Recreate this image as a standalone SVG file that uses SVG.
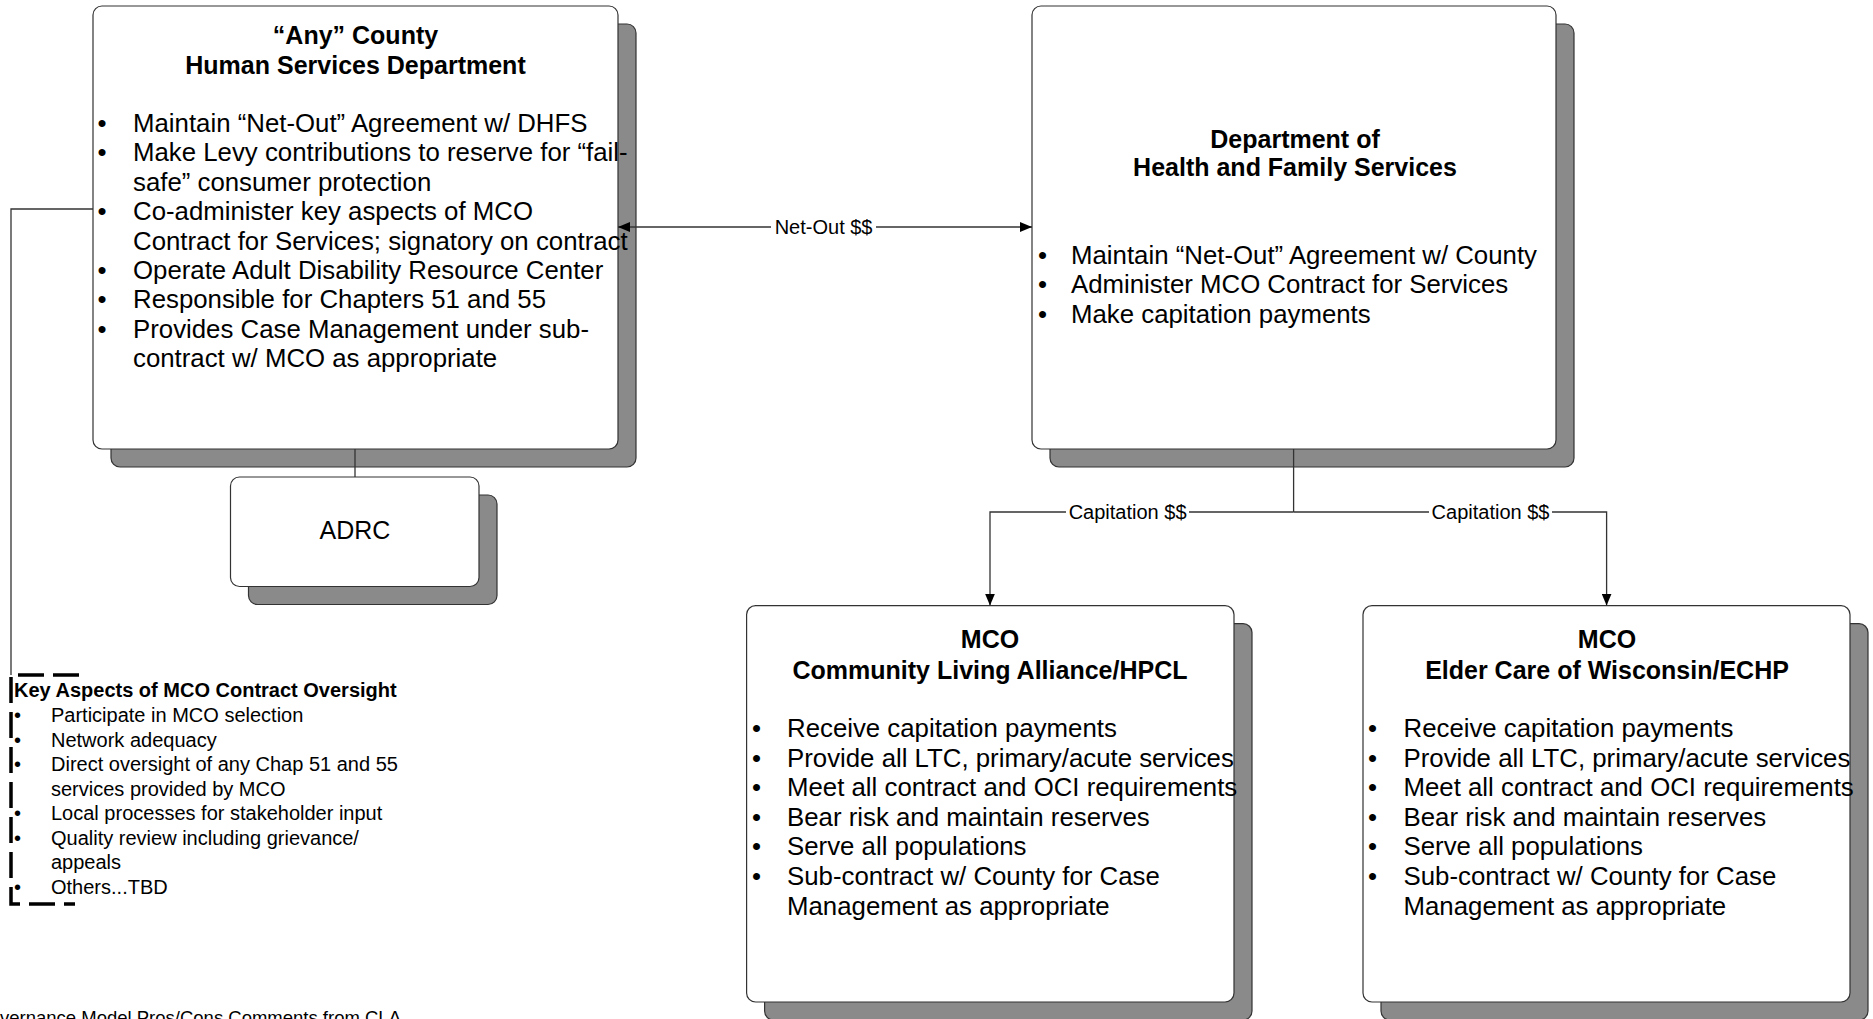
<svg xmlns="http://www.w3.org/2000/svg" width="1873" height="1019" viewBox="0 0 1873 1019">
<style>
.bg{fill:#ffffff}
.shadow{fill:#8a8a8a;stroke:#333333;stroke-width:1.2}
.box{fill:#ffffff;stroke:#333333;stroke-width:1.2}
.t{font-family:"Liberation Sans",Arial,Helvetica,sans-serif;fill:#000000}
.title{font-size:25px;font-weight:bold;text-anchor:middle}
.body{font-size:25.8px}
.small{font-size:20px}
.smallb{font-size:20px;font-weight:bold}
.lbl{font-size:20px;text-anchor:middle}
.conn{fill:none;stroke:#333333;stroke-width:1.3}
.lblbg{fill:#ffffff}
.dash{fill:none;stroke:#000000;stroke-width:3.5;stroke-dasharray:26 9}
</style>
<defs>
<marker id="arrow" viewBox="0 0 12 10" refX="12" refY="5" markerWidth="12" markerHeight="10" markerUnits="userSpaceOnUse" orient="auto-start-reverse">
<path d="M0,0 L12,5 L0,10 z" fill="#000000"/>
</marker>
</defs>
<rect class="bg" x="0" y="0" width="1873" height="1019"/>

<g id="county">
<rect class="shadow" x="111" y="24" width="525" height="443" rx="9"/>
<rect class="box" x="93" y="6" width="525" height="443" rx="9"/>
<text class="t title" x="355.5" y="43.5">“Any” County</text>
<text class="t title" x="355.5" y="73.5">Human Services Department</text>
<g class="t body">
<text x="97.5" y="132">•</text><text x="133" y="132">Maintain “Net-Out” Agreement w/ DHFS</text>
<text x="97.5" y="161.4">•</text><text x="133" y="161.4">Make Levy contributions to reserve for “fail-</text>
<text x="133" y="190.8">safe” consumer protection</text>
<text x="97.5" y="220.2">•</text><text x="133" y="220.2">Co-administer key aspects of MCO</text>
<text x="133" y="249.6">Contract for Services; signatory on contract</text>
<text x="97.5" y="279">•</text><text x="133" y="279">Operate Adult Disability Resource Center</text>
<text x="97.5" y="308.4">•</text><text x="133" y="308.4">Responsible for Chapters 51 and 55</text>
<text x="97.5" y="337.8">•</text><text x="133" y="337.8">Provides Case Management under sub-</text>
<text x="133" y="367.2">contract w/ MCO as appropriate</text>
</g>
</g>

<g id="dhfs">
<rect class="shadow" x="1050" y="24" width="524" height="443" rx="9"/>
<rect class="box" x="1032" y="6" width="524" height="443" rx="9"/>
<text class="t title" x="1295" y="147.6">Department of</text>
<text class="t title" x="1295" y="176.2">Health and Family Services</text>
<g class="t body">
<text x="1038" y="264">•</text><text x="1071" y="264">Maintain “Net-Out” Agreement w/ County</text>
<text x="1038" y="293.4">•</text><text x="1071" y="293.4">Administer MCO Contract for Services</text>
<text x="1038" y="322.8">•</text><text x="1071" y="322.8">Make capitation payments</text>
</g>
</g>

<g id="adrc">
<rect class="shadow" x="248.5" y="495" width="248.5" height="109.5" rx="9"/>
<rect class="box" x="230.5" y="477" width="248.5" height="109.5" rx="9"/>
<text class="t" x="355" y="539" font-size="25" text-anchor="middle">ADRC</text>
</g>

<g id="mco-cla">
<rect class="shadow" x="764.6" y="623.6" width="487.4" height="396.4" rx="9"/>
<rect class="box" x="746.6" y="605.6" width="487.4" height="396.4" rx="9"/>
<text class="t title" x="990" y="648">MCO</text>
<text class="t title" x="990" y="679">Community Living Alliance/HPCL</text>
<g class="t body">
<text x="752" y="737">•</text><text x="787" y="737">Receive capitation payments</text>
<text x="752" y="766.6">•</text><text x="787" y="766.6">Provide all LTC, primary/acute services</text>
<text x="752" y="796.2">•</text><text x="787" y="796.2">Meet all contract and OCI requirements</text>
<text x="752" y="825.8">•</text><text x="787" y="825.8">Bear risk and maintain reserves</text>
<text x="752" y="855.4">•</text><text x="787" y="855.4">Serve all populations</text>
<text x="752" y="885">•</text><text x="787" y="885">Sub-contract w/ County for Case</text>
<text x="787" y="914.6">Management as appropriate</text>
</g>
</g>

<g id="mco-echp">
<rect class="shadow" x="1381" y="623.6" width="487" height="396.4" rx="9"/>
<rect class="box" x="1363" y="605.6" width="487" height="396.4" rx="9"/>
<text class="t title" x="1607" y="648">MCO</text>
<text class="t title" x="1607" y="679">Elder Care of Wisconsin/ECHP</text>
<g class="t body">
<text x="1368" y="737">•</text><text x="1403.5" y="737">Receive capitation payments</text>
<text x="1368" y="766.6">•</text><text x="1403.5" y="766.6">Provide all LTC, primary/acute services</text>
<text x="1368" y="796.2">•</text><text x="1403.5" y="796.2">Meet all contract and OCI requirements</text>
<text x="1368" y="825.8">•</text><text x="1403.5" y="825.8">Bear risk and maintain reserves</text>
<text x="1368" y="855.4">•</text><text x="1403.5" y="855.4">Serve all populations</text>
<text x="1368" y="885">•</text><text x="1403.5" y="885">Sub-contract w/ County for Case</text>
<text x="1403.5" y="914.6">Management as appropriate</text>
</g>
</g>

<g id="oversight">
<path class="dash" d="M79,675 H11 V904 H75"/>
<text class="t smallb" x="14" y="697">Key Aspects of MCO Contract Oversight</text>
<g class="t small">
<text x="14" y="722">•</text><text x="51" y="722">Participate in MCO selection</text>
<text x="14" y="746.6">•</text><text x="51" y="746.6">Network adequacy</text>
<text x="14" y="771.1">•</text><text x="51" y="771.1">Direct oversight of any Chap 51 and 55</text>
<text x="51" y="795.7">services provided by MCO</text>
<text x="14" y="820.3">•</text><text x="51" y="820.3">Local processes for stakeholder input</text>
<text x="14" y="844.8">•</text><text x="51" y="844.8">Quality review including grievance/</text>
<text x="51" y="869.4">appeals</text>
<text x="14" y="894">•</text><text x="51" y="894">Others...TBD</text>
</g>
</g>

<g id="connectors">
<line class="conn" x1="618" y1="227" x2="1032" y2="227" marker-start="url(#arrow)" marker-end="url(#arrow)"/>
<rect class="lblbg" x="771" y="215" width="105" height="24"/>
<text class="t lbl" x="823.6" y="234">Net-Out $$</text>
<polyline class="conn" points="93,209 11,209 11,675"/>
<line class="conn" x1="355" y1="449" x2="355" y2="477"/>
<line class="conn" x1="1293.6" y1="449" x2="1293.6" y2="512"/>
<polyline class="conn" points="1293.6,512 990,512 990,605.6" marker-end="url(#arrow)"/>
<polyline class="conn" points="1293.6,512 1606.6,512 1606.6,605.6" marker-end="url(#arrow)"/>
<rect class="lblbg" x="1066" y="500" width="123" height="24"/>
<text class="t lbl" x="1127.6" y="519">Capitation $$</text>
<rect class="lblbg" x="1429" y="500" width="123" height="24"/>
<text class="t lbl" x="1490.5" y="519">Capitation $$</text>
</g>

<text class="t" x="0" y="1024" font-size="18.5">vernance Model Pros/Cons Comments from CLA</text>
</svg>
